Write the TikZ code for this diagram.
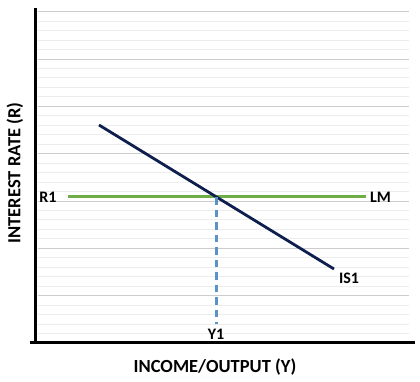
\documentclass[tikz,border=0pt]{standalone}
\usepackage{fontspec}
\setmainfont{Carlito}
\usetikzlibrary{positioning}
\definecolor{isblue}{HTML}{0E1E4E}
\definecolor{lmgreen}{HTML}{70AD47}
\definecolor{yblue}{HTML}{5B93C6}

\begin{document}
\begin{tikzpicture}[x=1pt, y=-1pt,
  axis/.style={line width=3pt, black},
  majorgrid/.style={black!20, line width=0.9pt},
  minorgrid/.style={black!7, line width=0.9pt},
  curvelabel/.style={font=\fontsize{16}{17}\selectfont\bfseries, inner sep=1pt},
  axislabel/.style={font=\fontsize{18.5}{19}\selectfont\bfseries, inner sep=1pt}]

  \useasboundingbox (0,0) rectangle (420,382);

  % --- Griglia ---
  \foreach \k in {1,...,35}{
    \draw[minorgrid] (38,343-\k*9.467) -- (409,343-\k*9.467);
  }
  \foreach \k in {1,...,7}{
    \draw[majorgrid] (38,343-\k*47.33) -- (409,343-\k*47.33);
  }

  % --- Assi ---
  \draw[axis] (35,8) -- (35,342.5);
  \draw[axis] (30,342.5) -- (415,342.5);
  \node[axislabel, rotate=90] (rlab) at (15,173) {INTEREST RATE (R)};
  \node[axislabel] (ylab) at (215,367) {INCOME/OUTPUT (Y)};

  % --- Curve LM e IS ---
  \coordinate (lmS) at (68,197);
  \coordinate (lmE) at (366,197);
  \coordinate (isS) at (99,125);
  \coordinate (isE) at (334,269);
  \draw[lmgreen, line width=3pt] (lmS) -- (lmE);
  \draw[isblue, line width=2.8pt] (isS) -- (isE);

  % --- Label ---
  \node[curvelabel] (r1) at (48,197) {R1};
  \node[curvelabel, right=3pt of lmE] (lm) {LM};
  \node[curvelabel] (is1) at (349,278) {IS1};
  \node[curvelabel] (y1) at (216,334) {Y1};

  % --- Equilibrio ---
  \coordinate (eq) at (intersection of isS--isE and lmS--lmE);
  \draw[yblue, line width=2.6pt, dash pattern=on 7.5pt off 5pt]
    (eq) -- ([yshift=4pt]eq |- y1.north);

\end{tikzpicture}
\end{document}
